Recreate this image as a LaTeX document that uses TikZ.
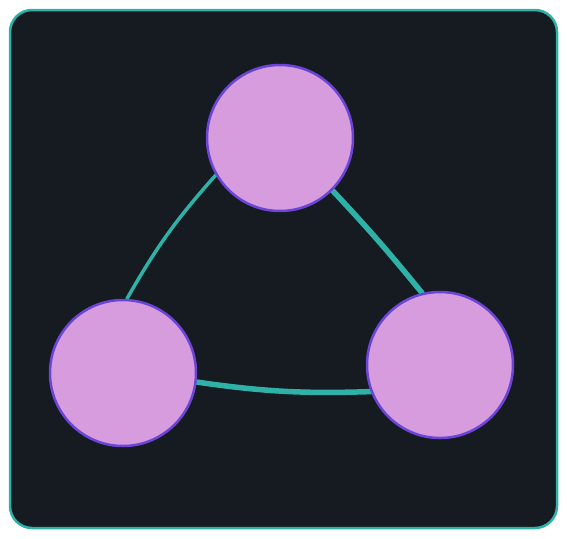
\documentclass[tikz,border=0pt]{standalone}
\definecolor{bgdark}{HTML}{161A21}
\definecolor{tealc}{HTML}{2EB2A8}
\definecolor{circfill}{HTML}{D69CDE}
\definecolor{circline}{HTML}{6B45D8}
\pgfdeclarelayer{back}
\pgfdeclarelayer{mid}
\pgfsetlayers{back,mid,main}
\begin{document}
\begin{tikzpicture}[x=1pt,y=-1pt,
  ball/.style={circle,draw=circline,fill=circfill,line width=2.5pt,inner sep=0pt,minimum size=146pt},
  link/.style={draw=tealc,line cap=round}]
\useasboundingbox (0,0) rectangle (567,538);
\begin{pgfonlayer}{back}
\draw[fill=bgdark,draw=tealc,line width=2.5pt,rounded corners=22pt] (10,10) rectangle (557,528);
\end{pgfonlayer}
\node[ball] (top) at (280,138) {};
\node[ball] (left) at (123,373) {};
\node[ball] (right) at (440,365) {};
\begin{pgfonlayer}{mid}
\draw[link,line width=3.5pt] (top.210) to[bend right=6] (left.87);
\draw[link,line width=5.5pt] (top.315) to[bend left=2] (right.104);
\draw[link,line width=5.5pt] (left.353) to[bend right=5] (right.201);
\end{pgfonlayer}
\end{tikzpicture}
\end{document}
